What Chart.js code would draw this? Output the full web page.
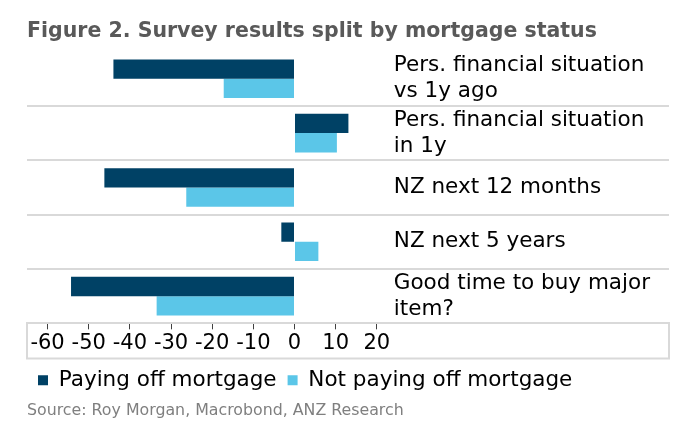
<!DOCTYPE html>
<html>
<head>
<meta charset="utf-8">
<script src="https://cdn.jsdelivr.net/npm/chart.js@4"></script>
<style>
  body { margin: 0; background: #fff; }
  #wrap { width: 694px; height: 435px; }
</style>
</head>
<body>
<div id="wrap"><canvas id="myChartMortgage"></canvas></div>
<script>
const categories = [
    ['Pers. financial situation', 'vs 1y ago'],
    ['Pers. financial situation', 'in 1y'],
    'NZ next 12 months',
    'NZ next 5 years',
    ['Good time to buy major', 'item?'],
];
const payingOff = [-44, 13.1, -46.2, -3.2, -54.3];
const notPayingOff = [-17.2, 10.3, -26.3, 5.8, -33.5];
const xTicks = [-60, -50, -40, -30, -20, -10, 0, 10, 20];

const FONT = 'DejaVu Sans';

// category names sit to the right of the bars, between the grid lines
const categoryText = {
    id: 'categoryText',
    afterDraw(chart) {
        const ctx = chart.ctx;
        const x = chart.scales.x.getPixelForValue(20) + 17;
        const y = chart.scales.y;
        ctx.save();
        ctx.font = '21.5px "' + FONT + '"';
        ctx.fillStyle = '#000';
        ctx.textAlign = 'left';
        ctx.textBaseline = 'middle';
        categories.forEach((label, i) => {
            const lines = Array.isArray(label) ? label : [label];
            const mid = y.getPixelForValue(i);
            lines.forEach((line, j) => {
                ctx.fillText(line, x, mid + (j - (lines.length - 1) / 2) * 26);
            });
        });
        ctx.restore();
    }
};

// light box around the x tick labels
const axisBox = {
    id: 'axisBox',
    afterDraw(chart) {
        const s = chart.scales.x;
        const ctx = chart.ctx;
        ctx.save();
        ctx.strokeStyle = '#d9d9d9';
        ctx.lineWidth = 2;
        ctx.beginPath();
        ctx.moveTo(s.left, s.top);
        ctx.lineTo(s.left, s.bottom);
        ctx.lineTo(s.right, s.bottom);
        ctx.lineTo(s.right, s.top);
        ctx.stroke();
        ctx.restore();
    }
};

const myChartMortgage = new Chart(
    document.getElementById('myChartMortgage'),
    {
        type: 'bar',
        data: {
            labels: categories,
            datasets: [
                {
                    label: 'Paying off mortgage',
                    backgroundColor: '#004165',
                    data: payingOff,
                },
                {
                    label: 'Not paying off mortgage',
                    backgroundColor: '#5BC6E8',
                    data: notPayingOff,
                },
            ]
        },
        options: {
            indexAxis: 'y',
            responsive: true,
            maintainAspectRatio: false,
            animation: false,
            categoryPercentage: 0.71,
            barPercentage: 1,
            layout: {
                padding: { left: 27, right: 25, top: 0, bottom: 15 }
            },
            plugins: {
                legend: {
                    display: true,
                    position: 'bottom',
                    align: 'start',
                    labels: {
                        color: '#000',
                        boxWidth: 10,
                        boxHeight: 10,
                        padding: 11,
                        font: { family: FONT, size: 21.5 }
                    }
                },
                title: {
                    display: true,
                    text: 'Figure 2. Survey results split by mortgage status',
                    align: 'start',
                    color: '#595959',
                    font: { family: FONT, size: 20.5, weight: 'bold' },
                    padding: { top: 19, bottom: 8 }
                },
                subtitle: {
                    display: true,
                    text: 'Source: Roy Morgan, Macrobond, ANZ Research',
                    position: 'bottom',
                    align: 'start',
                    color: '#7f7f7f',
                    font: { family: FONT, size: 15.8 },
                    padding: { top: 0, bottom: 0 }
                },
                tooltip: { enabled: false }
            },
            scales: {
                x: {
                    min: -65,
                    max: 91,
                    afterBuildTicks: (scale) => {
                        scale.ticks = xTicks.map(v => ({ value: v }));
                    },
                    grid: {
                        drawOnChartArea: false,
                        tickLength: 6,
                        tickColor: '#404040'
                    },
                    border: { color: '#d9d9d9', width: 2 },
                    ticks: {
                        color: '#000',
                        padding: 2,
                        maxRotation: 0,
                        font: { family: FONT, size: 21 }
                    }
                },
                y: {
                    grid: {
                        offset: true,
                        drawTicks: false,
                        lineWidth: 2,
                        color: (c) => c.index === 0 ? 'rgba(0,0,0,0)' : '#d9d9d9'
                    },
                    border: { display: false },
                    ticks: { display: false }
                }
            }
        },
        plugins: [categoryText, axisBox]
    }
);
</script>
</body>
</html>
